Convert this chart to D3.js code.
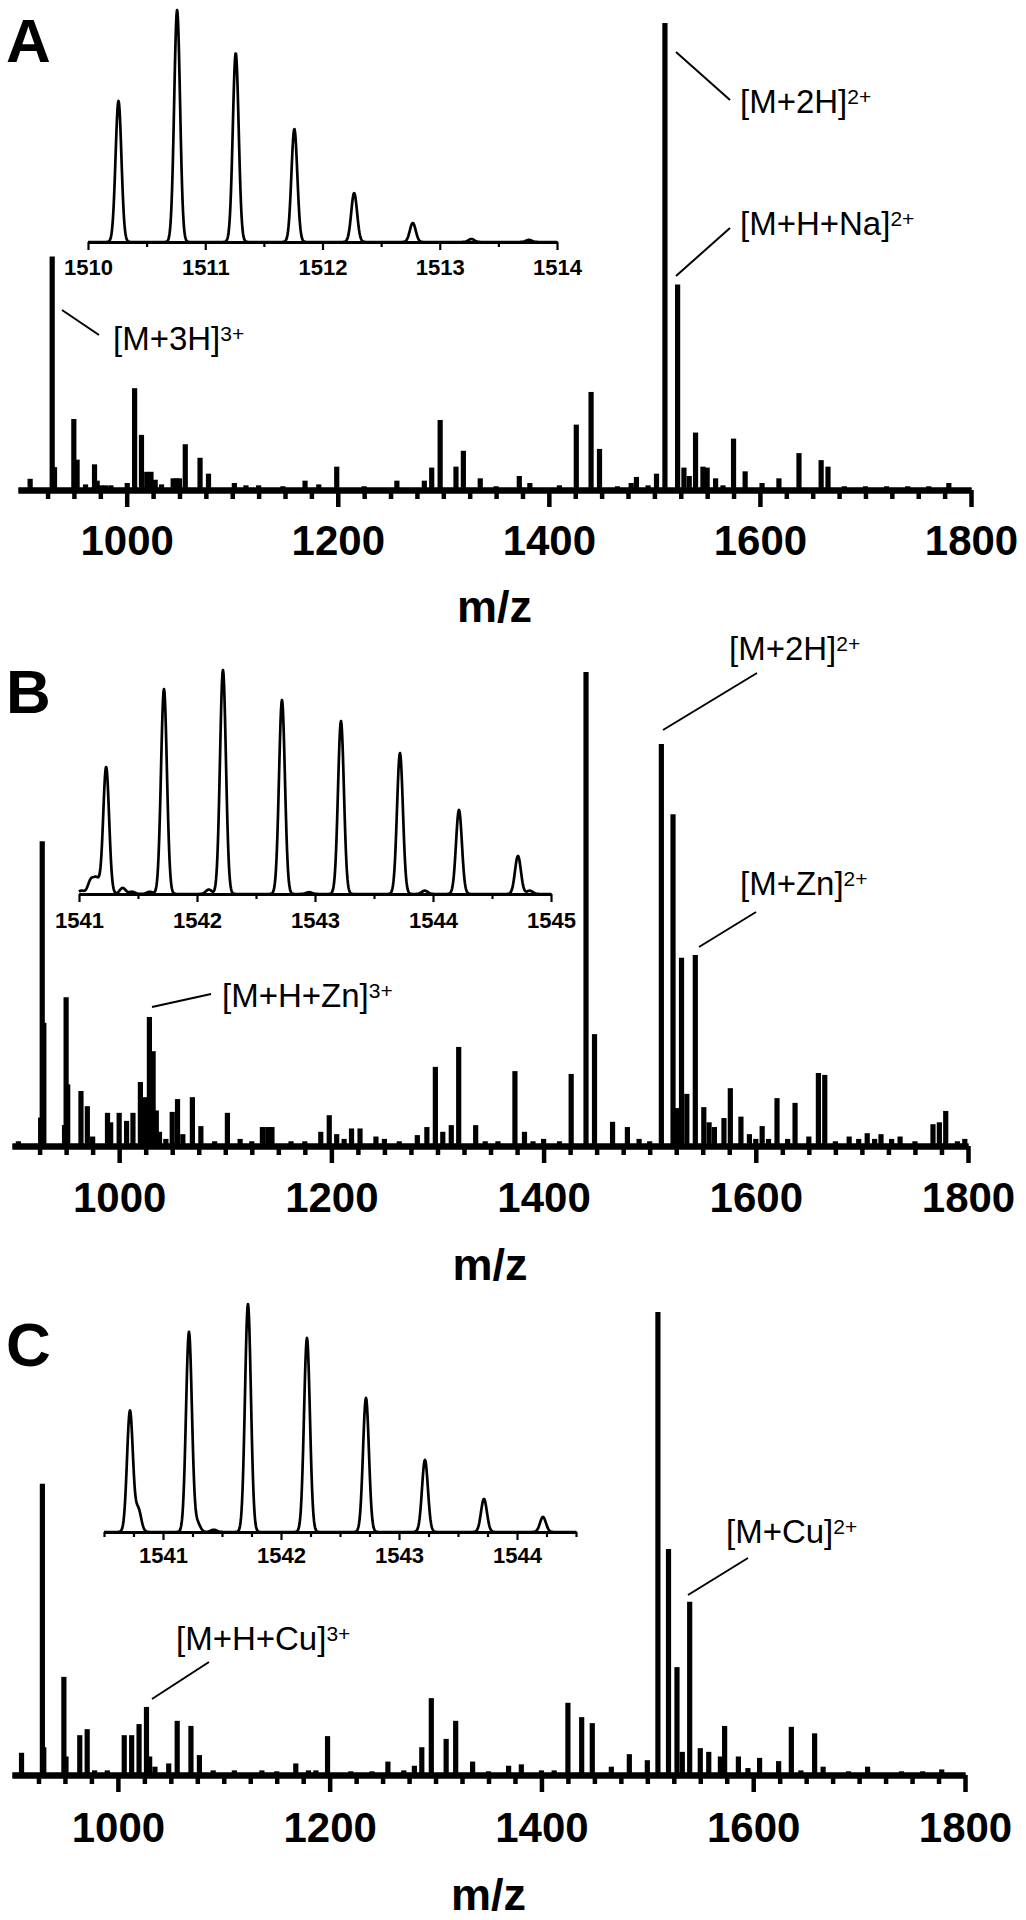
<!DOCTYPE html>
<html>
<head>
<meta charset="utf-8">
<script src="https://cdn.jsdelivr.net/npm/d3@7"></script>
<style>
body { margin: 0; background: #fff; }
svg { display: block; }
text { font-family: "Liberation Sans", Arial, sans-serif; fill: #000; }
</style>
</head>
<body>
<svg id="chart" width="1026" height="1920"></svg>
<script>
// values: [m/z, relative intensity %]
var peaksA = [[908.5,2.4],[929.4,50],[931.6,4.9],[949.9,15.2],[953,6.5],[961,1.2],[969.5,5.5],[972,2],[976,1],[980,1],[985,1],
  [1000.5,1.5],[1007.5,21.8],[1014,11.8],[1019,3.9],[1023,3.9],[1027,2.2],[1033,1.2],[1044,2.5],[1047,2.5],[1050,2.5],
  [1055.5,9.8],[1069.5,6.9],[1077.5,3.5],[1102,1.5],[1113,1],[1125,1],[1148,0.8],[1169,2],[1182,1.2],[1199,5],[1225,0.8],
  [1256,2],[1282,2],[1289,4.8],[1297,15],[1312,5],[1319,8.4],[1335,2.5],[1350,0.8],[1372,3],[1382,1.5],[1410,1],
  [1426,14],[1440,21],[1448,8.8],[1465,0.8],[1478,1.5],[1483,2.8],[1494,1],[1502,3.5],[1510,100],[1522,44],[1528,4.8],
  [1533,3],[1539,12.3],[1546,5],[1550,4.8],[1558,2.5],[1565,1],[1575,11],[1586,4],[1602,1.5],[1618,2.5],[1637,7.9],
  [1658,6.4],[1664.5,5],[1680,0.8],[1700,0.8],[1720,0.8],[1740,0.8],[1760,0.8],[1779,1.5]];

var peaksB = [[905,1],[926,6],[927.5,64.3],[929,26],[948.5,4.4],[950,31.4],[951.5,13],[964,11.6],[970,8.4],[975,2],
  [989,7],[992,5],[1000,7],[1007,5.3],[1013,7],[1020,13.5],[1024,10.3],[1028.5,27.2],[1032,20],[1035,7.5],[1038,3],
  [1044,1.5],[1050,7.2],[1055,9.9],[1060,2.5],[1069,10.3],[1077,4.2],[1090,1],[1102,7],[1114,1.5],[1125,1],[1135,4],
  [1140,4],[1144,4],[1162,1],[1175,1],[1190,3],[1198,6.5],[1205,2.5],[1212,1.5],[1219,3.7],[1227,3.7],[1242,2],
  [1250,1.5],[1264,1],[1281,2.3],[1290,4],[1298,16.7],[1305,3],[1313,4.4],[1320,20.9],[1336,4.4],[1345,1],[1357,1],
  [1373,15.8],[1382,3],[1390,1],[1400,1.5],[1415,1],[1426,15.2],[1440,100],[1448,23.6],[1465,5.1],[1479,4],[1490,1.5],
  [1500,1],[1511,84.8],[1522,70],[1526,8],[1530,39.7],[1535,11],[1543,40.3],[1551,8.2],[1556,5],[1561,4],[1570,5.9],
  [1576,12.2],[1586,6.2],[1594,2.5],[1600,1.5],[1606,4.2],[1612,1.5],[1620,10.1],[1630,1.5],[1637,9.1],[1650,2],
  [1659,15.4],[1665,15],[1675,1],[1688,2],[1697,1.5],[1705,2.7],[1712,1.5],[1718,2.5],[1728,1.5],[1736,2],[1750,1],
  [1767,4.6],[1773,5],[1779,7.4],[1790,1],[1797,1.5]];

var peaksC = [[909,4.8],[928.7,62.9],[930,6],[949,21.2],[951,4],[964,8.6],[971,9.9],[978,1],[990,1],[1006,8.6],
  [1013,8.6],[1020,11],[1027,14.7],[1030,4],[1035,1.8],[1048,2.5],[1056,11.7],[1069,10.6],[1077,4.3],[1090,1],[1110,1],
  [1136,1],[1150,0.8],[1168,2.5],[1180,1],[1187,1],[1198,8.4],[1220,0.8],[1240,0.8],[1255,2.9],[1270,1],[1280,2],
  [1287,6],[1296,16.6],[1310,7.8],[1319,11.7],[1335,2.9],[1350,0.8],[1369,2],[1381,2.3],[1400,1],[1412,1],[1425,15.6],
  [1438,12.5],[1448,11.2],[1466,1.8],[1483,4.5],[1500,3.2],[1510,100],[1520,48.8],[1528,23.3],[1533,5],[1540,37.4],
  [1550,5.8],[1558,5],[1569,4],[1573,10.6],[1586,4],[1595,1.5],[1606,3.7],[1624,3],[1636,10.4],[1645,1],[1658,9],
  [1666,1.8],[1690,0.8],[1708,1.8],[1740,0.8],[1760,0.8],[1778,1.2]];

// isotope envelopes of the insets
var insetA = [[1510.26,60.8],[1510.76,100],[1511.26,81.5],[1511.76,48.7],[1512.27,21.1],[1512.77,8.2],[1513.27,1.3],[1513.76,0.9]];
var insetB = [[1541.02,1.5],[1541.1,6],[1541.15,6.5],[1541.23,56.7],[1541.37,2.7],[1541.45,1],[1541.6,1],[1541.72,91.5],
  [1542.1,2],[1542.22,100],[1542.72,86.6],[1542.95,0.8],[1543.22,77.2],[1543.72,62.9],[1543.93,1.5],[1544.22,37.5],
  [1544.72,17],[1544.82,1.5]];
var insetC = [[1540.72,53.1],[1540.79,10],[1541.22,87.7],[1541.29,4],[1541.43,1],[1541.72,100],[1542.22,85.1],
  [1542.72,58.8],[1543.22,31.6],[1543.72,14.5],[1544.22,6.6]];

var mzTicks = [1000, 1200, 1400, 1600, 1800];
var insetTicksA = [1510, 1511, 1512, 1513, 1514];
var insetTicksB = [1541, 1542, 1543, 1544, 1545];
var insetTicksC = [1541, 1542, 1543, 1544];

var notesA = [["[M+2H]", "2+"], ["[M+H+Na]", "2+"], ["[M+3H]", "3+"]];
var notesB = [["[M+2H]", "2+"], ["[M+Zn]", "2+"], ["[M+H+Zn]", "3+"]];
var notesC = [["[M+Cu]", "2+"], ["[M+H+Cu]", "3+"]];

var svg = d3.select("#chart");

var panels = [
  { letter: "A", peaks: peaksA, dom: [897, 1800], rng: [18, 971], base: 490, top: 23, tickBase: 555, titleBase: 622, letterBase: 62,
    inset: { peaks: insetA, dom: [1510, 1514], rng: [88, 557], base: 242, top: 10, ticks: insetTicksA, step: 0.5, labelBase: 275 },
    notes: notesA,
    notePos: [{ x: 740, y: 113, l: [676, 52, 730, 100] }, { x: 740, y: 235, l: [676, 276, 730, 228] }, { x: 113, y: 350, l: [62, 310, 99, 335] }] },
  { letter: "B", peaks: peaksB, dom: [899, 1800], rng: [12, 968], base: 1146, top: 672, tickBase: 1212, titleBase: 1280, letterBase: 713,
    inset: { peaks: insetB, dom: [1541, 1545], rng: [79, 551], base: 894, top: 670, ticks: insetTicksB, step: 0.5, labelBase: 928 },
    notes: notesB,
    notePos: [{ x: 729, y: 660, l: [663, 730, 757, 673] }, { x: 740, y: 895, l: [699, 947, 756, 912] }, { x: 222, y: 1007, l: [152, 1007, 211, 994] }] },
  { letter: "C", peaks: peaksC, dom: [900, 1800], rng: [12, 965], base: 1775, top: 1312, tickBase: 1842, titleBase: 1910, letterBase: 1366,
    inset: { peaks: insetC, dom: [1540.5, 1544.5], rng: [104, 576], base: 1532, top: 1304, ticks: insetTicksC, step: 0.25, labelBase: 1563 },
    notes: notesC,
    notePos: [{ x: 726, y: 1543, l: [688, 1595, 748, 1558] }, { x: 176, y: 1650, l: [152, 1699, 209, 1662] }] }
];

panels.forEach(function (p) {
  var g = svg.append("g");
  var x = d3.scaleLinear().domain(p.dom).range(p.rng);
  var y = d3.scaleLinear().domain([0, 100]).range([p.base, p.top]);

  // sticks
  g.selectAll("line.peak").data(p.peaks).join("line")
    .attr("class", "peak")
    .attr("x1", function (d) { return x(d[0]); })
    .attr("x2", function (d) { return x(d[0]); })
    .attr("y1", y(0))
    .attr("y2", function (d) { return y(d[1]); })
    .attr("stroke", "#000")
    .attr("stroke-width", 5.2);

  // main axis: minor every 25, major every 200
  var minor = d3.range(925, 1801, 25).filter(function (v) { return mzTicks.indexOf(v) < 0; });
  var ax1 = g.append("g").attr("transform", "translate(0," + p.base + ")")
    .call(d3.axisBottom(x).tickValues(minor).tickSize(9).tickSizeOuter(0).tickFormat(""));
  var ax2 = g.append("g").attr("transform", "translate(0," + p.base + ")")
    .call(d3.axisBottom(x).tickValues(mzTicks).tickSize(17).tickSizeOuter(0).tickFormat(d3.format("d")));
  [ax1, ax2].forEach(function (a) {
    a.select(".domain").attr("stroke", "#000").attr("stroke-width", 6);
    a.selectAll(".tick line").attr("stroke", "#000").attr("stroke-width", 4.5);
  });
  ax2.selectAll(".tick text")
    .attr("y", p.tickBase - p.base).attr("dy", null)
    .style("font-size", "42px").style("font-weight", "bold");

  g.append("text")
    .attr("x", (p.rng[0] + p.rng[1]) / 2).attr("y", p.titleBase)
    .attr("text-anchor", "middle")
    .style("font-size", "45px").style("font-weight", "bold")
    .text("m/z");

  g.append("text")
    .attr("x", 6).attr("y", p.letterBase)
    .style("font-size", "62px").style("font-weight", "bold")
    .text(p.letter);

  // inset profile
  var ins = p.inset;
  var xi = d3.scaleLinear().domain(ins.dom).range(ins.rng);
  var yi = d3.scaleLinear().domain([0, 100]).range([ins.base, ins.top]);
  var sigma = 0.025;
  var cols = d3.range(ins.rng[0], ins.rng[1] + 0.01, 0.5).map(function (px) {
    var m = xi.invert(px);
    var v = d3.sum(ins.peaks, function (pk) {
      var t = (m - pk[0]) / sigma;
      return pk[1] * Math.exp(-0.5 * t * t);
    });
    return [m, v];
  });
  g.append("path")
    .datum(cols)
    .attr("fill", "none").attr("stroke", "#000").attr("stroke-width", 2.7)
    .attr("stroke-linejoin", "round")
    .attr("d", d3.line().x(function (d) { return xi(d[0]); }).y(function (d) { return yi(d[1]); }));

  var n = Math.round((ins.dom[1] - ins.dom[0]) / ins.step);
  var iminor = d3.range(n + 1).map(function (i) { return ins.dom[0] + i * ins.step; })
    .filter(function (v) { return ins.ticks.indexOf(v) < 0; });
  var ia1 = g.append("g").attr("transform", "translate(0," + ins.base + ")")
    .call(d3.axisBottom(xi).tickValues(iminor).tickSize(5).tickSizeOuter(0).tickFormat(""));
  var ia2 = g.append("g").attr("transform", "translate(0," + ins.base + ")")
    .call(d3.axisBottom(xi).tickValues(ins.ticks).tickSize(8).tickSizeOuter(0).tickFormat(d3.format("d")));
  [ia1, ia2].forEach(function (a) {
    a.select(".domain").attr("stroke", "#000").attr("stroke-width", 3);
    a.selectAll(".tick line").attr("stroke", "#000").attr("stroke-width", 2.2);
  });
  ia2.selectAll(".tick text")
    .attr("y", ins.labelBase - ins.base).attr("dy", null)
    .style("font-size", "22px").style("font-weight", "bold");

  // annotations
  p.notes.forEach(function (nt, i) {
    var pos = p.notePos[i];
    g.append("line")
      .attr("x1", pos.l[0]).attr("y1", pos.l[1]).attr("x2", pos.l[2]).attr("y2", pos.l[3])
      .attr("stroke", "#000").attr("stroke-width", 2);
    var t = g.append("text").attr("x", pos.x).attr("y", pos.y).style("font-size", "33px").text(nt[0]);
    t.append("tspan").attr("dy", -9).style("font-size", "21px").text(nt[1]);
  });
});
</script>
</body>
</html>
